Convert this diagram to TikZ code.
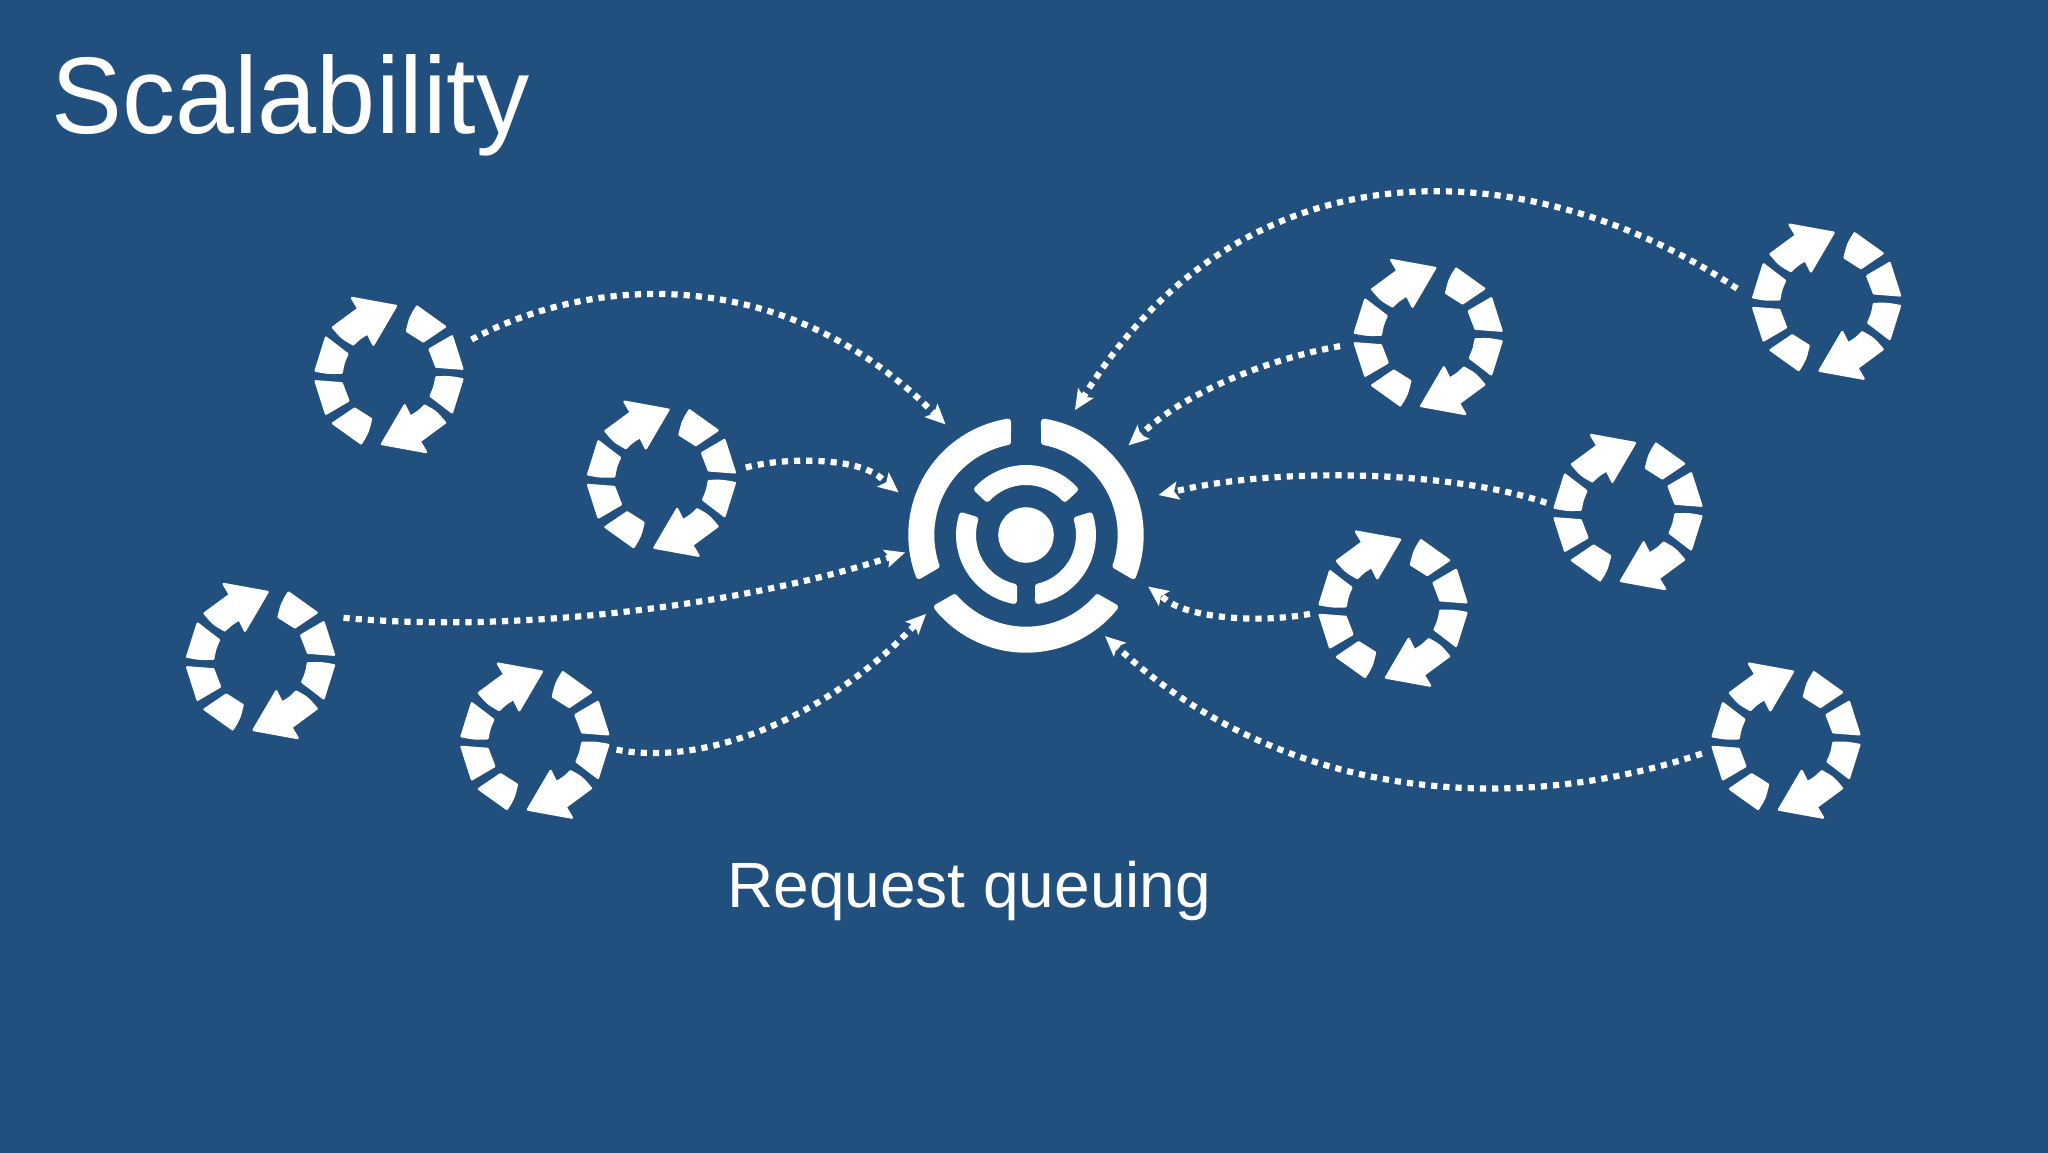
\documentclass[tikz,border=0pt]{standalone}
\usepackage{fontspec}
\setmainfont{Liberation Sans}
\usetikzlibrary{arrows.meta,calc}
\definecolor{bgblue}{HTML}{21507F}
\tikzset{
  x=1pt,y=-1pt,
  seg/.style={fill=white,draw=white,line width=2.4pt,line join=round},
  ringseg/.style={fill=white,draw=white,line width=6pt,line join=round},
  flow/.style={white,line width=6.2pt,dash pattern=on 6.2pt off 6pt,
    -{Stealth[length=20pt,width=18pt,inset=4pt]}},
  pics/recycle/.style={code={
    \foreach \r in {0,180}{
    \begin{scope}[x=0.3333pt,y=-0.3333pt,rotate=\r,shift={(-297,-315)}]
      \path[seg] (129,172) -- (205,116) -- (186,84) -- (318,108) -- (250,224) -- (233,190) .. controls (208,205) .. (190,223) .. controls (156,204) .. cycle;
      \path[seg] (381,110) -- (465,170) -- (400,214) .. controls (376,197) .. (351,183) .. controls (361,142) .. cycle;
      \path[seg] (419,238) -- (486,199) -- (517,296) .. controls (477,291) .. (439,290) .. controls (432,264) .. cycle;
      \path[seg] (439,322) .. controls (479,321) .. (517,328) -- (486,427) .. controls (451,400) .. (422,378) .. controls (434,351) .. cycle;
    \end{scope}}
  }}
}
\begin{document}
\begin{tikzpicture}
\useasboundingbox (0,0) rectangle (2048,1152);
\fill[bgblue] (-6,-6) rectangle (2054,1158);

% title and caption
\node[anchor=base west,inner sep=0pt,text=white,xscale=0.975] (title) at (51,133)
  {\fontsize{109}{109}\selectfont Scalability};
\node[anchor=base west,inner sep=0pt,text=white] (caption) at (727,907.5)
  {\fontsize{64}{64}\selectfont Request queuing};

% hub
\begin{scope}[shift={(1026,535)},y=1pt]
  \fill[white] (0,0) circle (27.8);
  \path[ringseg] (99:114.7) arc (99:201:114.7) -- (199:94.7) arc (199:101:94.7) -- cycle;
  \path[ringseg] (219:114.7) arc (219:321:114.7) -- (319:94.7) arc (319:221:94.7) -- cycle;
  \path[ringseg] (-21:114.7) arc (-21:81:114.7) -- (79:94.7) arc (79:-19:94.7) -- cycle;
  \path[ringseg] (43:67) arc (43:137:67) -- (137:53) arc (137:43:53) -- cycle;
  \path[ringseg] (163:67) arc (163:259.7:67) -- (256.9:53) arc (256.9:163:53) -- cycle;
  \path[ringseg] (280.3:67) arc (280.3:377:67) -- (377:53) arc (377:283.1:53) -- cycle;
\end{scope}

% icons
\pic at (389,375) {recycle};
\pic at (661.5,478.7) {recycle};
\pic at (260.6,661) {recycle};
\pic at (534.9,740.6) {recycle};
\pic at (1428.2,337) {recycle};
\pic at (1826.6,301.7) {recycle};
\pic at (1628,512) {recycle};
\pic at (1393,608.6) {recycle};
\pic at (1786,740.6) {recycle};

% connector ends
\begin{scope}[x=1.3061pt,y=-1.3061pt]
\coordinate (a1) at (361,260); \coordinate (b1) at (724,325); \coordinate (c1) at (595,200);
\coordinate (a2) at (571,358); \coordinate (b2) at (688,377); \coordinate (c2) at (655,350);
\coordinate (a3) at (263,473); \coordinate (b3) at (693,423); \coordinate (c3) at (560,465);
\coordinate (a4) at (472,574); \coordinate (b4) at (709,470); \coordinate (c4) at (630,550);
\coordinate (a5) at (1330,221); \coordinate (b5) at (823,314); \coordinate (c5) at (960,100);
\coordinate (a6) at (1026,265); \coordinate (b6) at (864,341); \coordinate (c6) at (910,300);
\coordinate (a7) at (1184,385); \coordinate (b7) at (887,379); \coordinate (c7) at (980,358);
\coordinate (a8) at (1003,470); \coordinate (b8) at (879,449); \coordinate (c8) at (910,472);
\coordinate (a9) at (1303,577); \coordinate (b9) at (846,487); \coordinate (c9) at (980,608);
\draw[flow] (a1) .. controls (450,212) and (c1) .. ($(b1)!24pt!(c1)$) -- (b1);
\draw[flow] (a2) .. controls (600,350) and (c2) .. ($(b2)!24pt!(c2)$) -- (b2);
\draw[flow] (a3) .. controls (390,485) and (c3) .. ($(b3)!24pt!(c3)$) -- (b3);
\draw[flow] (a4) .. controls (540,587) and (c4) .. ($(b4)!24pt!(c4)$) -- (b4);
\draw[flow] (a5) .. controls (1180,120) and (c5) .. ($(b5)!24pt!(c5)$) -- (b5);
\draw[flow] (a6) .. controls (970,275) and (c6) .. ($(b6)!24pt!(c6)$) -- (b6);
\draw[flow] (a7) .. controls (1110,360) and (c7) .. ($(b7)!24pt!(c7)$) -- (b7);
\draw[flow] (a8) .. controls (960,478) and (c8) .. ($(b8)!24pt!(c8)$) -- (b8);
\draw[flow] (a9) .. controls (1150,628) and (c9) .. ($(b9)!24pt!(c9)$) -- (b9);
\end{scope}
\end{tikzpicture}
\end{document}
